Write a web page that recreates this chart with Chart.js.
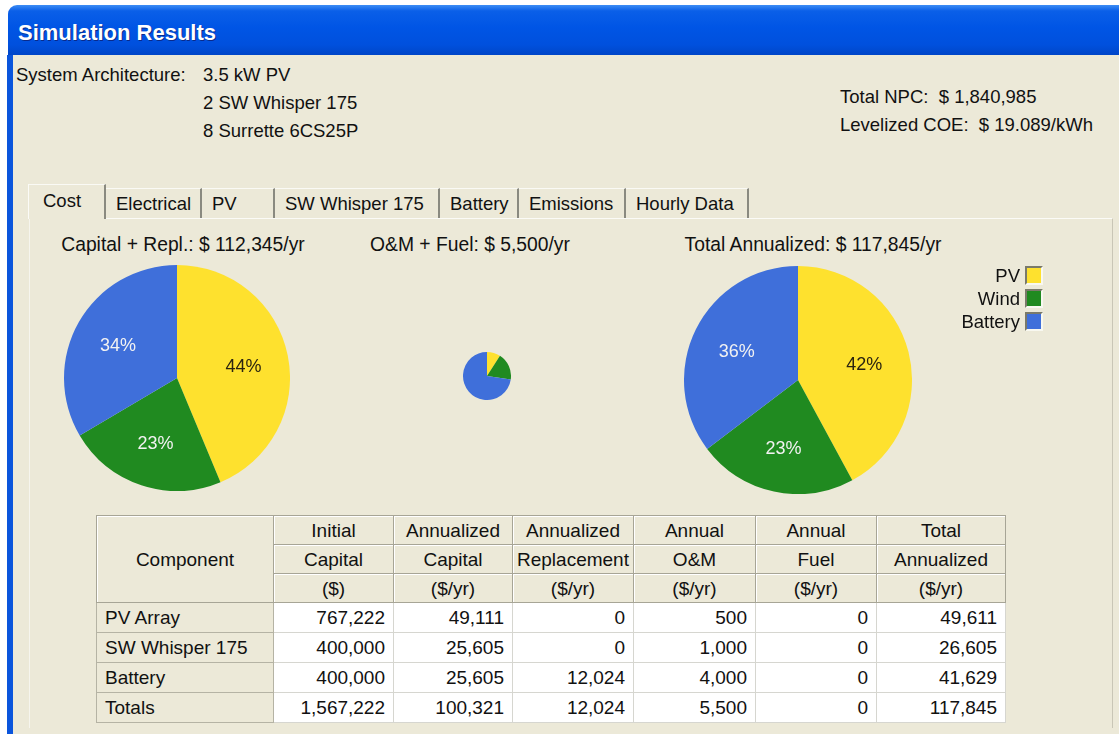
<!DOCTYPE html>
<html>
<head>
<meta charset="utf-8">
<script src="https://cdn.jsdelivr.net/npm/chart.js@4"></script>
<style>
  html, body { margin:0; padding:0; width:1119px; height:734px; overflow:hidden; background:#fff;
    font-family:"Liberation Sans", Arial, sans-serif; color:#111; }
  .abs { position:absolute; white-space:nowrap; }
  #titlebar { position:absolute; left:8px; top:5px; width:1111px; height:50px; border-radius:9px 0 0 0;
    background:linear-gradient(to bottom,#3d8df5 0%,#0a5fe8 12%,#0055e5 45%,#0050dd 80%,#0046c8 100%); }
  #titlebar span { position:absolute; left:10px; top:15px; font-size:22px; font-weight:bold; color:#fff;
    text-shadow:1px 1px 0 #0a2a8a; }
  #leftborder { position:absolute; left:7px; top:55px; width:6px; height:679px; background:#0a55dc; }
  #body { position:absolute; left:13px; top:55px; width:1106px; height:679px; background:#ECE9D8; }
  .t { font-size:18.5px; line-height:20px; }
  .tab { position:absolute; top:188px; height:30px; border-right:2px solid #8a8a80; border-top:1px solid #fafaf5;
    font-size:18.5px; line-height:30px; padding-left:10px; box-sizing:border-box; }
  #panel { position:absolute; left:29px; top:218px; width:1084px; height:510px; border-top:1px solid #fbfbf7;
    border-left:1px solid #f6f5ee; border-right:1px solid #c9c6b6; box-sizing:border-box; }
  .ptitle { position:absolute; top:235px; font-size:19.3px; line-height:20px; text-align:center; width:340px; }
  canvas { position:absolute; }
  .leg { position:absolute; font-size:18.5px; line-height:20px; text-align:right; width:120px; left:900px; }
  .legbox { position:absolute; left:1025px; width:14px; height:15px; border:2px solid; border-color:#7a7a6a #f8f8f0 #f8f8f0 #7a7a6a; }
  table { position:absolute; left:96px; top:515px; border-collapse:collapse; font-size:19px; table-layout:fixed; }
  td { padding:0 8px; overflow:hidden; white-space:nowrap; box-sizing:border-box; }
  td.h { background:#ECE9D8; text-align:center; border:1px solid #a7a596; height:29px; line-height:27px;
    box-shadow:inset 1px 1px 0 #fff; padding:0 1px; }
  td.c { background:#ECE9D8; text-align:left; border:1px solid #b5b3a4; height:30px; line-height:28px; }
  td.n { background:#fff; text-align:right; border:1px solid #d6d6d0; height:30px; line-height:28px; }
</style>
</head>
<body>
<div id="titlebar"><span>Simulation Results</span></div>
<div id="leftborder"></div>
<div id="body"></div>

<div class="abs t" style="left:16px;top:65px;">System Architecture:</div>
<div class="abs t" style="left:203px;top:65px;">3.5 kW PV</div>
<div class="abs t" style="left:203px;top:93px;">2 SW Whisper 175</div>
<div class="abs t" style="left:203px;top:121px;">8 Surrette 6CS25P</div>
<div class="abs t" style="left:840px;top:87px;">Total NPC:&nbsp; $ 1,840,985</div>
<div class="abs t" style="left:840px;top:115px;">Levelized COE:&nbsp; $ 19.089/kWh</div>

<div id="panel"></div>
<div id="tabs"></div>

<div class="ptitle" style="left:13px;">Capital + Repl.: $ 112,345/yr</div>
<div class="ptitle" style="left:300px;">O&amp;M + Fuel: $ 5,500/yr</div>
<div class="ptitle" style="left:643px;">Total Annualized: $ 117,845/yr</div>

<canvas id="pie1" width="226" height="226" style="left:64px;top:265px;"></canvas>
<canvas id="pie2" width="48" height="48" style="left:463px;top:352px;"></canvas>
<canvas id="pie3" width="228" height="228" style="left:684px;top:266px;"></canvas>

<div id="legend"></div>
<table id="costTable"></table>

<script>
// ---- data ----
const categories = ['PV', 'Wind', 'Battery'];
const capitalRepl = [49111, 25605, 37629];
const omFuel = [500, 1000, 4000];
const totalAnnualized = [49611, 26605, 41629];
const capitalReplLabels = ['44%', '23%', '34%'];
const totalAnnualizedLabels = ['42%', '23%', '36%'];
const sliceColors = ['#FEE12E', '#208A20', '#3F6FDA'];
const labelColors = ['#2a2410', '#f2f2f2', '#f2f2f2'];

const tabNames = ['Cost', 'Electrical', 'PV', 'SW Whisper 175', 'Battery', 'Emissions', 'Hourly Data'];
const tabEdges = [28, 106, 202, 275, 440, 519, 626, 749];

const components = ['PV Array', 'SW Whisper 175', 'Battery', 'Totals'];
const headerRow1 = ['Initial', 'Annualized', 'Annualized', 'Annual', 'Annual', 'Total'];
const headerRow2 = ['Capital', 'Capital', 'Replacement', 'O&M', 'Fuel', 'Annualized'];
const headerRow3 = ['($)', '($/yr)', '($/yr)', '($/yr)', '($/yr)', '($/yr)'];
const initialCapital = [767222, 400000, 400000, 1567222];
const annualizedCapital = [49111, 25605, 25605, 100321];
const annualizedReplacement = [0, 0, 12024, 12024];
const annualOM = [500, 1000, 4000, 5500];
const annualFuel = [0, 0, 0, 0];
const totalAnnualizedCol = [49611, 26605, 41629, 117845];
const colWidths = [177, 120, 119, 121, 122, 121, 129];

// ---- tabs ----
const tabsDiv = document.getElementById('tabs');
tabNames.forEach((name, i) => {
  const d = document.createElement('div');
  d.className = 'tab';
  d.textContent = name;
  d.style.left = tabEdges[i] + 'px';
  d.style.width = (tabEdges[i + 1] - tabEdges[i]) + 'px';
  if (i === 0) {
    d.style.top = '184px';
    d.style.height = '35px';
    d.style.lineHeight = '32px';
    d.style.paddingLeft = '14px';
    d.style.background = '#ECE9D8';
    d.style.borderLeft = '1px solid #fbfbf7';
  }
  tabsDiv.appendChild(d);
});

// ---- legend ----
const legDiv = document.getElementById('legend');
categories.forEach((c, i) => {
  const t = document.createElement('div');
  t.className = 'leg';
  t.style.top = (266 + i * 23) + 'px';
  t.textContent = c;
  legDiv.appendChild(t);
  const b = document.createElement('div');
  b.className = 'legbox';
  b.style.top = (266 + i * 23) + 'px';
  b.style.background = sliceColors[i];
  legDiv.appendChild(b);
});

// ---- table ----
const fmt = v => v.toLocaleString('en-US');
const tbl = document.getElementById('costTable');
let html = '<colgroup>' + colWidths.map(w => `<col style="width:${w}px">`).join('') + '</colgroup>';
html += '<tr><td class="h" rowspan="3">Component</td>' + headerRow1.map(h => `<td class="h">${h}</td>`).join('') + '</tr>';
html += '<tr>' + headerRow2.map(h => `<td class="h">${h.replace('&', '&amp;')}</td>`).join('') + '</tr>';
html += '<tr>' + headerRow3.map(h => `<td class="h">${h}</td>`).join('') + '</tr>';
components.forEach((c, r) => {
  const vals = [initialCapital[r], annualizedCapital[r], annualizedReplacement[r], annualOM[r], annualFuel[r], totalAnnualizedCol[r]];
  html += `<tr><td class="c">${c}</td>` + vals.map(v => `<td class="n">${fmt(v)}</td>`).join('') + '</tr>';
});
tbl.innerHTML = html;

// ---- pies ----
const sliceLabelPlugin = {
  id: 'sliceLabels',
  afterDatasetsDraw(chart, args, opts) {
    if (!opts.labels) return;
    const ctx = chart.ctx;
    const meta = chart.getDatasetMeta(0);
    ctx.save();
    ctx.font = '18px "Liberation Sans", Arial, sans-serif';
    ctx.textAlign = 'center';
    ctx.textBaseline = 'middle';
    meta.data.forEach((arc, i) => {
      const p = arc.getProps(['x', 'y', 'startAngle', 'endAngle', 'outerRadius'], true);
      const mid = (p.startAngle + p.endAngle) / 2;
      const r = p.outerRadius * 0.6;
      ctx.fillStyle = labelColors[i];
      ctx.fillText(opts.labels[i], p.x + Math.cos(mid) * r, p.y + Math.sin(mid) * r + 2);
    });
    ctx.restore();
  }
};

function makePie(id, values, labels) {
  new Chart(document.getElementById(id), {
    type: 'pie',
    data: {
      labels: categories,
      datasets: [{ data: values, backgroundColor: sliceColors, borderWidth: 0, hoverOffset: 0 }]
    },
    options: {
      responsive: false,
      animation: false,
      devicePixelRatio: 1,
      events: [],
      layout: { padding: 0 },
      plugins: {
        legend: { display: false },
        title: { display: false },
        tooltip: { enabled: false },
        sliceLabels: { labels: labels }
      }
    },
    plugins: [sliceLabelPlugin]
  });
}
makePie('pie1', capitalRepl, capitalReplLabels);
makePie('pie2', omFuel, null);
makePie('pie3', totalAnnualized, totalAnnualizedLabels);
</script>
</body>
</html>
